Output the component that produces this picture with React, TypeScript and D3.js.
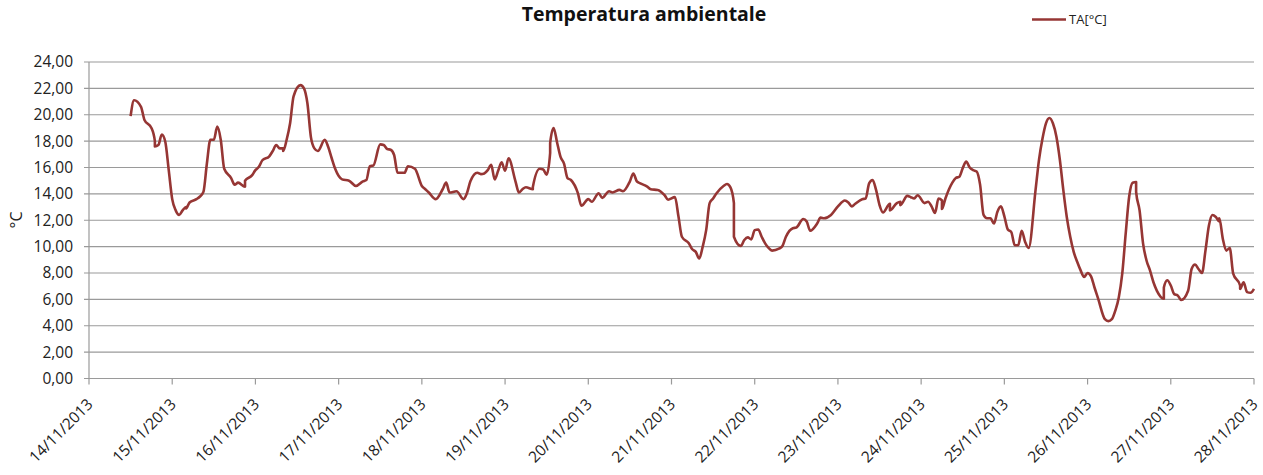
import React from "react";
import * as d3 from "d3";

const hoursFromStart: number[] = [
  12.8, 13.9, 15.2, 16.6, 18.1, 19.0, 19.5, 20.7, 21.7, 22.6, 23.4, 24.0, 25.1, 26.0, 27.2, 28.2, 28.9, 29.9,
  31.5, 32.8, 33.7, 34.7, 35.9, 36.8, 37.8, 38.7, 39.9, 41.2, 42.4, 43.8, 45.0, 45.9, 47.4, 48.4, 49.3, 50.5,
  52.2, 53.4, 54.1, 55.1, 56.0, 56.8, 57.8, 58.8, 59.9, 61.3, 62.3, 63.3, 64.5, 65.7, 66.8, 68.1, 69.3, 70.5,
  71.6, 73.2, 75.8, 77.7, 79.1, 80.6, 81.7, 82.7, 84.4, 85.4, 86.6, 87.8, 88.7, 89.9, 91.1, 92.8, 94.3, 96.0,
  97.2, 98.8, 100.9, 102.4, 103.6, 104.8, 106.1, 108.0, 109.1, 110.4, 112.0, 113.3, 114.7, 115.7, 116.8, 117.8,
  118.5, 119.8, 120.9, 121.9, 123.1, 124.3, 125.8, 126.9, 128.0, 128.9, 130.1, 131.0, 132.0, 133.0, 133.9,
  134.9, 135.8, 136.6, 137.8, 138.7, 139.9, 141.1, 142.8, 144.0, 145.5, 147.1, 148.8, 150.3, 151.7, 153.6,
  154.9, 156.0, 157.0, 158.4, 159.9, 161.3, 162.8, 164.7, 166.4, 167.6, 169.0, 170.3, 171.6, 173.1, 174.3,
  175.1, 176.0, 177.2, 178.6, 179.6, 180.3, 181.5, 183.0, 184.1, 185.1, 186.0, 186.8, 188.0, 189.2, 190.2,
  191.1, 192.1, 193.0, 194.3, 195.5, 196.6, 197.9, 199.3, 200.7, 201.7, 203.0, 204.1, 206.0, 207.2, 208.7,
  210.1, 211.3, 212.9, 214.7, 216.6, 218.0, 219.3, 220.9, 221.9, 223.3, 224.3, 225.3, 226.2, 227.2, 228.1,
  229.8, 231.0, 231.8, 233.4, 234.2, 234.9, 236.0, 237.3, 238.5, 239.7, 241.1, 242.4, 243.1, 244.0, 245.0,
  246.0, 246.9, 247.8, 249.1, 250.3, 251.2, 252.2, 253.3, 254.6, 255.5, 256.5, 257.5, 258.4, 259.4, 260.1,
  261.0, 262.3, 263.2, 264.2, 265.1, 266.1, 267.6, 268.8, 269.8, 270.8, 271.7, 273.1, 274.1, 275.2, 276.2,
  277.2, 278.1, 279.1, 280.1, 281.0, 282.2, 283.2, 284.1, 285.3, 286.3, 287.3, 288.5, 289.2, 290.2, 291.4,
  293.0, 294.5, 295.6, 296.6, 297.6, 298.3, 299.1, 300.1, 301.0, 302.0, 302.9, 303.6, 304.6, 305.5, 306.5,
  307.5, 308.9, 310.1, 310.8, 311.8, 312.8, 313.7, 314.9, 315.8, 317.1, 318.3, 319.2, 320.2, 321.1, 322.4,
  323.5, 324.6, 325.4, 326.0, 326.9, 327.9, 328.9, 329.9, 330.8, 332.0, 332.9, 333.9, 334.9, 335.7, 336.0,
];

const taValues: number[] = [
  19.9, 21.1, 20.6, 19.6, 19.0, 18.0, 17.6, 17.7, 18.5, 17.95, 15.8, 13.6, 12.75, 12.4, 12.75, 13.0, 12.9, 13.35,
  13.6, 13.8, 14.15, 16.3, 18.1, 18.1, 19.1, 18.1, 15.9, 15.2, 14.7, 14.85, 14.55, 15.0, 15.4, 15.8, 16.05, 16.55,
  16.85, 17.25, 17.7, 17.45, 17.45, 17.25, 18.1, 19.35, 21.4, 22.25, 22.0, 20.85, 18.3, 17.45, 17.25, 18.1, 17.55, 16.7,
  15.9, 15.1, 15.0, 14.6, 14.95, 15.05, 16.1, 16.15, 17.75, 17.7, 17.4, 17.35, 16.95, 15.6, 15.6, 16.1, 15.9, 14.6,
  14.35, 14.1, 13.6, 14.35, 14.85, 14.1, 14.2, 13.6, 14.05, 14.95, 15.6, 15.5, 15.55, 15.8, 16.2, 15.1,
  15.75, 16.4, 15.75, 16.7, 14.95, 14.1, 14.35, 14.5, 14.35, 14.5, 15.9, 15.85, 15.45, 17.1, 17.85,
  19.0, 17.9, 16.8, 16.3, 15.2, 15.05, 14.05, 13.1, 13.6, 13.4, 14.05, 13.7, 14.2, 14.1, 14.3,
  14.2, 14.95, 15.55, 14.95, 14.8, 14.55, 14.35, 14.3, 13.9, 13.55, 13.75, 12.3, 10.75, 10.25, 9.8,
  9.6, 9.1, 10.0, 11.25, 13.3, 13.65, 14.05, 14.6, 14.75, 14.5, 13.3, 10.75, 10.05, 10.5, 10.7,
  10.55, 11.25, 11.3, 10.75, 10.25, 9.9, 9.7, 9.85, 10.05, 10.75, 11.4, 11.45, 12.1, 11.9, 11.2,
  11.75, 12.2, 12.15, 12.4, 13.05, 13.5, 13.35, 13.05, 13.25, 13.6, 13.65, 14.8, 15.05, 14.3, 13.15,
  12.6, 13.25, 12.75, 13.3, 13.4, 13.15, 13.85, 13.75, 13.65, 13.9, 13.3, 13.4, 13.05, 12.55, 13.65,
  13.5, 12.85, 13.65, 14.85, 15.2, 15.3, 15.95, 16.45, 16.0, 15.8, 15.7, 14.7, 12.4, 12.15, 12.15,
  11.75, 12.65, 13.05, 12.3, 11.3, 11.1, 10.1, 10.1, 11.2, 10.35, 9.9, 14.3, 16.6, 18.2, 19.35,
  19.75, 19.35, 18.35, 16.6, 14.3, 12.25, 10.75, 9.6, 8.85, 8.2, 7.7, 8.0, 7.75, 6.9, 6.1,
  4.5, 4.35, 4.5, 5.15, 6.15, 7.95, 11.0, 13.8, 14.85, 14.9, 14.15, 12.75, 10.25, 8.95, 8.2,
  7.3, 6.65, 6.05, 6.9, 7.45, 7.05, 6.4, 6.3, 5.95, 6.65, 8.3, 8.65, 8.3, 8.0, 9.7,
  11.6, 12.4, 12.25, 11.9, 12.15, 10.6, 9.7, 9.9, 7.95, 7.05, 6.8, 7.3, 6.55, 6.5, 6.8,
];

const startDate = new Date(2013, 10, 14);
const endDate = new Date(2013, 10, 28);
const yTicks: number[] = [0, 2, 4, 6, 8, 10, 12, 14, 16, 18, 20, 22, 24];
const chartTitle = "Temperatura ambientale";
const seriesName = "TA[°C]";
const yAxisTitle = "°C";

const W = 1263;
const H = 475;
const FONT = "'Open Sans', 'DejaVu Sans', sans-serif";
const LINE_COLOR = "#963634";
const GRID = "#9a9a9a";

export default function App() {
  const x = d3.scaleTime().domain([startDate, endDate]).range([89, 1254]);
  const y = d3.scaleLinear().domain([0, 24]).range([378.5, 62]);
  const data = hoursFromStart.map((h, i) => ({ t: d3.timeHour.offset(startDate, h), v: taValues[i] }));
  const line = d3
    .line<{ t: Date; v: number }>()
    .x((d) => x(d.t))
    .y((d) => y(d.v))
    .curve(d3.curveMonotoneX);
  const days = d3.timeDay.range(startDate, d3.timeDay.offset(endDate, 1));
  const fmtDate = d3.timeFormat("%d/%m/%Y");
  const fmtY = (v: number) => v.toFixed(2).replace(".", ",");
  const x0 = x.range()[0];
  const x1 = x.range()[1];

  return (
    <svg
      width={W}
      height={H}
      style={{ position: "absolute", left: 0, top: 0, background: "#fff" }}
      fontFamily={FONT}
    >
      <rect width={W} height={H} fill="#fff" />
      {yTicks.map((t) => (
        <line key={"g" + t} x1={x0 - 5} x2={x1} y1={y(t)} y2={y(t)} stroke={GRID} strokeWidth={1.2} />
      ))}
      <line x1={x0} x2={x0} y1={y(24)} y2={y(0)} stroke={GRID} strokeWidth={1.2} />
      {yTicks.map((t) => (
        <text key={"yl" + t} x={73} y={y(t)} dy="0.35em" textAnchor="end" fontSize={15.5} fill="#222">
          {fmtY(t)}
        </text>
      ))}
      {days.map((d) => (
        <g key={"x" + d.getTime()}>
          <line x1={x(d)} x2={x(d)} y1={y(0)} y2={y(0) + 6} stroke={GRID} strokeWidth={1.2} />
          <text
            transform={`translate(${x(d) + 1},${y(0) + 23}) rotate(-45)`}
            textAnchor="end"
            dy="0.35em"
            fontSize={15.5}
            fill="#222"
          >
            {fmtDate(d)}
          </text>
        </g>
      ))}
      <path d={line(data) || ""} fill="none" stroke={LINE_COLOR} strokeWidth={2.6} strokeLinejoin="round" />
      <text x={644} y={21} textAnchor="middle" fontSize={19.5} fontWeight="bold" fill="#111">
        {chartTitle}
      </text>
      <line x1={1032} x2={1066} y1={19.5} y2={19.5} stroke={LINE_COLOR} strokeWidth={2.6} />
      <text x={1069} y={19.5} dy="0.35em" fontSize={13} fill="#222">
        {seriesName}
      </text>
      <text transform={`translate(22,220) rotate(-90)`} textAnchor="middle" fontSize={16} fill="#222">
        {yAxisTitle}
      </text>
    </svg>
  );
}
